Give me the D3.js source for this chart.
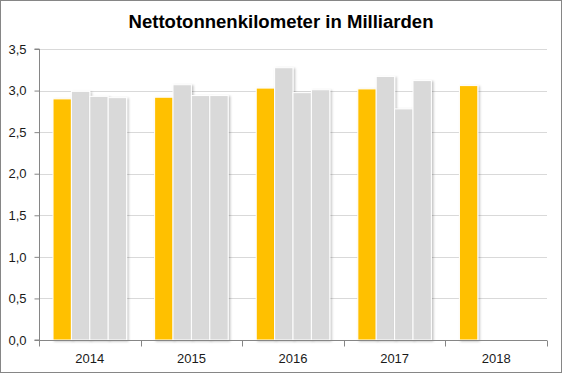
<!DOCTYPE html>
<html>
<head>
<meta charset="utf-8">
<script src="https://cdn.jsdelivr.net/npm/d3@7"></script>
<style>
  body { margin: 0; background: #fff; }
  svg { display: block; }
</style>
</head>
<body>
<div id="chart"></div>
<script>
var width = 563,
    height = 374;

// values (Milliarden ntkm)
var years = ["2014", "2015", "2016", "2017", "2018"];
var slots = ["s0", "s1", "s2", "s3"];
var values = [
  [2.90, 2.99, 2.93, 2.915],
  [2.92, 3.07, 2.94, 2.94],
  [3.03, 3.275, 2.975, 3.01],
  [3.02, 3.17, 2.78, 3.12],
  [3.06, null, null, null]
];
var yTicks = [0, 0.5, 1, 1.5, 2, 2.5, 3, 3.5];

var margin = {top: 49, right: 16, bottom: 34, left: 39};
var plotW = width - margin.left - margin.right,
    plotH = height - margin.top - margin.bottom;

var svg = d3.select("#chart").append("svg")
    .attr("width", width)
    .attr("height", height);

var defs = svg.append("defs");
var shadow = defs.append("filter")
    .attr("id", "shadow")
    .attr("x", "-20%").attr("y", "-20%")
    .attr("width", "150%").attr("height", "150%");
shadow.append("feDropShadow")
    .attr("dx", 1.5).attr("dy", 1)
    .attr("stdDeviation", 1)
    .attr("flood-color", "#000")
    .attr("flood-opacity", 0.25);

// outer frame
svg.append("rect")
    .attr("x", 0.5).attr("y", 0.5)
    .attr("width", width - 2).attr("height", height - 2)
    .attr("fill", "#fff")
    .attr("stroke", "#868686");

svg.append("text")
    .attr("x", 281)
    .attr("y", 28)
    .attr("text-anchor", "middle")
    .attr("font-family", "Liberation Sans, Arial, sans-serif")
    .attr("font-weight", "bold")
    .attr("font-size", 18)
    .attr("textLength", 305)
    .attr("lengthAdjust", "spacingAndGlyphs")
    .attr("fill", "#000")
    .text("Nettotonnenkilometer in Milliarden");

var g = svg.append("g")
    .attr("transform", "translate(" + margin.left + "," + margin.top + ")");

var x0 = d3.scaleBand()
    .domain(years)
    .range([0, plotW]);

var x1 = d3.scaleBand()
    .domain(slots)
    .range([x0.bandwidth() * 0.138, x0.bandwidth() * 0.862]);

var y = d3.scaleLinear()
    .domain([0, 3.5])
    .range([plotH, 0]);

// gridlines
g.append("g")
  .selectAll("line")
  .data(yTicks.slice(1))
  .join("line")
    .attr("x1", 0)
    .attr("x2", plotW)
    .attr("y1", function(d) { return Math.round(y(d)) + 0.5; })
    .attr("y2", function(d) { return Math.round(y(d)) + 0.5; })
    .attr("stroke", "#d9d9d9");

// bars
var groups = g.append("g")
  .selectAll("g")
  .data(years)
  .join("g")
    .attr("transform", function(d) { return "translate(" + x0(d) + ",0)"; });

groups.selectAll("rect")
  .data(function(d, i) {
    return values[i].map(function(v, j) { return {slot: slots[j], value: v, idx: j}; })
      .filter(function(e) { return e.value != null; });
  })
  .join("rect")
    .attr("x", function(d) { return x1(d.slot); })
    .attr("y", function(d) { return y(d.value); })
    .attr("width", x1.bandwidth())
    .attr("height", function(d) { return y(0) - y(d.value); })
    .attr("fill", function(d) { return d.idx === 0 ? "#ffc000" : "#d9d9d9"; })
    .attr("stroke", "#fff")
    .attr("stroke-width", 1)
    .attr("filter", "url(#shadow)");

// axes
var yAxis = d3.axisLeft(y)
    .tickValues(yTicks)
    .tickSize(5)
    .tickPadding(8)
    .tickFormat(function(d) { return d3.format(".1f")(d).replace(".", ","); });

var yg = g.append("g")
    .attr("transform", "translate(0.5,0)")
    .call(yAxis);

var xAxis = d3.axisBottom(x0)
    .tickSize(0)
    .tickPadding(13);

var xg = g.append("g")
    .attr("transform", "translate(0," + (plotH + 0.5) + ")")
    .call(xAxis);

// category boundary ticks
xg.selectAll(".bound")
  .data(d3.range(years.length + 1))
  .join("line")
    .attr("class", "bound")
    .attr("x1", function(i) { return Math.round(i * x0.step()) + 0.5; })
    .attr("x2", function(i) { return Math.round(i * x0.step()) + 0.5; })
    .attr("y1", 0)
    .attr("y2", 6)
    .attr("stroke", "#868686");

[yg, xg].forEach(function(a) {
  a.select(".domain").attr("stroke", "#868686");
  a.selectAll(".tick line").attr("stroke", "#868686");
  a.selectAll("text")
    .attr("font-family", "Liberation Sans, Arial, sans-serif")
    .attr("font-size", 13)
    .attr("fill", "#1a1a1a");
});
yg.select(".domain").attr("d", "M-5," + y(3.5) + "H0V" + y(0) + "H-5");
xg.select(".domain").attr("d", "M0,0H" + plotW);
</script>
</body>
</html>
